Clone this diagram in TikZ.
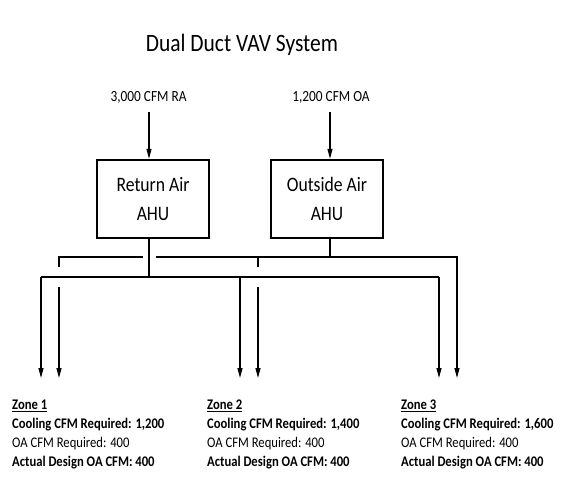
\documentclass[tikz,border=0pt]{standalone}
\usepackage{fontspec}
\setmainfont[FakeStretch=0.86]{Carlito}
\usetikzlibrary{arrows.meta,calc}
\tikzset{
  duct/.style={line width=1.3pt, draw=black},
  ductarrow/.style={duct, -{Triangle[length=10pt,width=5pt]}},
  inarrow/.style={line width=1.2pt, -{Triangle[length=10pt,width=5pt]}},
  ahu/.style={draw, line width=2.4pt, minimum width=112pt, minimum height=78pt, align=center, inner sep=0pt, font=\fontsize{20.5}{29}\selectfont},
  flowlabel/.style={inner sep=0pt, font=\fontsize{15.5}{18}\selectfont},
  zonetext/.style={anchor=north west, align=left, inner sep=0pt, font=\fontsize{14.7}{19}\selectfont},
  titletext/.style={inner sep=0pt, font=\fontsize{25}{29}\selectfont}
}
\begin{document}
\begin{tikzpicture}[x=1pt,y=-1pt]
\useasboundingbox (0,0) rectangle (582,482);
% title
\node[titletext] (title) at (242,45) {Dual Duct VAV System};
% AHUs
\node[ahu] (ra) at (153,199) {Return Air\\AHU};
\node[ahu] (oa) at (327,199) {Outside Air\\AHU};
% inlet labels
\node[flowlabel] (lra) at (148.5,97) {3,000 CFM RA};
\node[flowlabel] (loa) at (331,97) {1,200 CFM OA};
\coordinate (raIn) at (149,112);
\coordinate (oaIn) at (330,112);
\draw[inarrow] (raIn) -- (raIn |- ra.north);
\draw[inarrow] (oaIn) -- (oaIn |- oa.north);
% junctions
\coordinate (rj) at (149,277);
\coordinate (oj) at (330,257);
% return air duct
\coordinate (r1) at (41,277);
\coordinate (r2) at (240,277);
\coordinate (r3) at (439,277);
\coordinate (r1e) at (41,378);
\coordinate (r2e) at (240,378);
\coordinate (r3e) at (439,378);
\draw[duct] (ra.south -| rj) -- (rj);
\draw[duct] (r1) -- (r3);
\draw[ductarrow] (r1) -- (r1e);
\draw[ductarrow] (r2) -- (r2e);
\draw[ductarrow] (r3) -- (r3e);
% outside air duct
\coordinate (o1) at (59,257);
\coordinate (o2) at (258,257);
\coordinate (o3) at (457,257);
\coordinate (gapL) at (143,257);
\coordinate (gapR) at (156,257);
\coordinate (o1s) at (59,267);
\coordinate (o2s) at (258,267);
\coordinate (o1b) at (59,287);
\coordinate (o2b) at (258,287);
\coordinate (o1e) at (59,378);
\coordinate (o2e) at (258,378);
\coordinate (o3e) at (457,378);
\draw[duct] (oa.south -| oj) -- (oj);
\draw[duct] (o1s) -- (o1) -- (gapL);
\draw[ductarrow] (gapR) -- (o3) -- (o3e);
\draw[duct] (o2) -- (o2s);
\draw[ductarrow] (o1b) -- (o1e);
\draw[ductarrow] (o2b) -- (o2e);
% zones
\node[zonetext] (z1) at (12,400) {\textbf{\underline{Zone 1}}\\\textbf{Cooling CFM Required: 1,200}\\OA CFM Required: 400\\\textbf{Actual Design OA CFM: 400}};
\node[zonetext] (z2) at (207,400) {\textbf{\underline{Zone 2}}\\\textbf{Cooling CFM Required: 1,400}\\OA CFM Required: 400\\\textbf{Actual Design OA CFM: 400}};
\node[zonetext] (z3) at (401,400) {\textbf{\underline{Zone 3}}\\\textbf{Cooling CFM Required: 1,600}\\OA CFM Required: 400\\\textbf{Actual Design OA CFM: 400}};
\end{tikzpicture}
\end{document}
